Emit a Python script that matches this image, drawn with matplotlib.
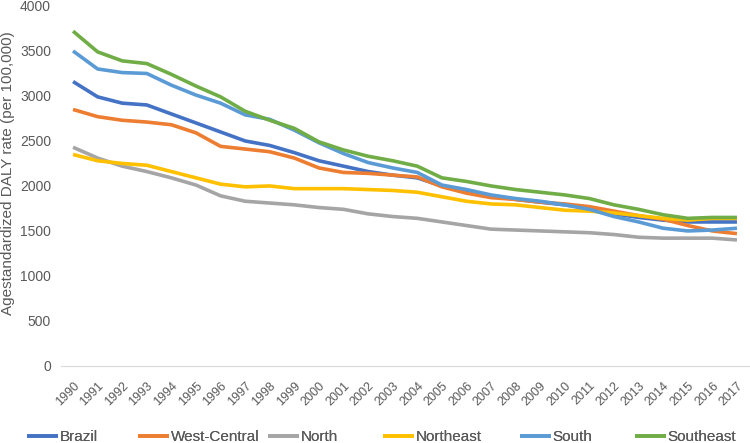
import matplotlib
matplotlib.use("Agg")
import matplotlib.pyplot as plt

years = list(range(1990, 2018))

brazil = [3160, 2990, 2920, 2900, 2800, 2700, 2600, 2500, 2450, 2370, 2280, 2220, 2160, 2120,
          2090, 2000, 1940, 1890, 1850, 1820, 1790, 1750, 1690, 1650, 1620, 1600, 1600, 1600]
west_central = [2850, 2770, 2730, 2710, 2680, 2590, 2440, 2410, 2380, 2310, 2200, 2150, 2140, 2120,
                2100, 1990, 1920, 1870, 1850, 1820, 1800, 1770, 1720, 1670, 1630, 1560, 1500, 1470]
north = [2430, 2310, 2220, 2160, 2090, 2010, 1890, 1830, 1810, 1790, 1760, 1740, 1690, 1660,
         1640, 1600, 1560, 1520, 1510, 1500, 1490, 1480, 1460, 1430, 1420, 1420, 1420, 1400]
northeast = [2350, 2280, 2250, 2230, 2160, 2090, 2020, 1990, 2000, 1970, 1970, 1970, 1960, 1950,
             1930, 1880, 1830, 1800, 1790, 1760, 1730, 1720, 1700, 1670, 1640, 1620, 1640, 1640]
south = [3500, 3300, 3260, 3250, 3120, 3010, 2920, 2790, 2740, 2620, 2480, 2360, 2260, 2200,
         2150, 2010, 1960, 1900, 1860, 1830, 1790, 1740, 1660, 1600, 1530, 1500, 1510, 1530]
southeast = [3720, 3490, 3390, 3360, 3240, 3110, 2990, 2830, 2730, 2640, 2490, 2400, 2330, 2280,
             2220, 2090, 2050, 2000, 1960, 1930, 1900, 1860, 1790, 1740, 1680, 1640, 1650, 1650]

series = [
    ("Brazil", brazil, "#4472C4"),
    ("West-Central", west_central, "#ED7D31"),
    ("North", north, "#A5A5A5"),
    ("Northeast", northeast, "#FFC000"),
    ("South", south, "#5B9BD5"),
    ("Southeast", southeast, "#70AD47"),
]

# left edge (px) of each legend entry, as in the original layout
legend_x = [27, 138, 268, 383, 520, 635]

plt.rcParams['font.family'] = ['Liberation Sans', 'DejaVu Sans']
grey = "#595959"

fig = plt.figure(figsize=(7.5, 4.43), dpi=100)
ax = fig.add_axes([0.081, 0.174, 0.918, 0.8125])

lines = []
for name, vals, col in series:
    ln, = ax.plot(years, vals, color=col, linewidth=2.6, label=name, solid_capstyle='butt')
    lines.append(ln)

ax.set_xlim(1989.5, 2017.5)
ax.set_ylim(0, 4000)
ax.set_yticks(range(0, 4001, 500))
ax.set_xticks(years)
ax.set_xticklabels([str(y) for y in years], rotation=45, ha='right', rotation_mode='anchor',
                   fontsize=9, color=grey)
for label in ax.get_yticklabels():
    label.set_fontsize(10)
    label.set_color(grey)
ax.tick_params(length=0)
ax.tick_params(axis='y', pad=7)
ax.tick_params(axis='x', pad=10)

for side in ['top', 'right', 'left']:
    ax.spines[side].set_visible(False)
ax.spines['bottom'].set_color("#D9D9D9")

ax.set_ylabel("Agestandardized DALY rate (per 100,000)", fontsize=11, color=grey)
ax.yaxis.set_label_coords(-0.067, 0.536)

for ln, x in zip(lines, legend_x):
    leg = fig.legend(handles=[ln], loc='center left', bbox_to_anchor=(x / 750, 1 - 437 / 443),
                     frameon=False, fontsize=11, handlelength=2.0, handletextpad=0.15,
                     borderpad=0, borderaxespad=0, labelcolor=grey)
    fig.add_artist(leg)

fig.savefig("out.png", dpi=100)
